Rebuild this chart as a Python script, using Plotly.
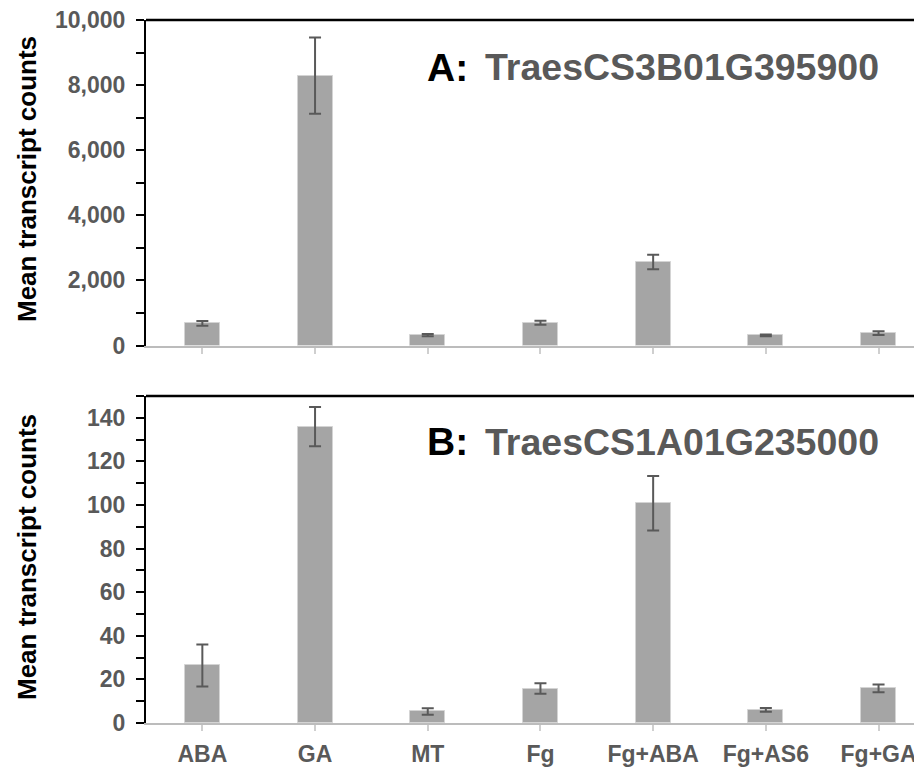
import plotly.graph_objects as go

categories = ["ABA", "GA", "MT", "Fg", "Fg+ABA", "Fg+AS6", "Fg+GA"]
a_means = [680, 8290, 320, 700, 2565, 310, 380]
a_err = [70, 1170, 35, 60, 220, 25, 55]
b_means = [26.4, 136.0, 5.3, 15.8, 100.8, 6.0, 15.9]
b_err = [9.6, 9.0, 1.5, 2.4, 12.5, 0.85, 1.75]
a_ticks = [0, 2000, 4000, 6000, 8000, 10000]
b_ticks = [0, 20, 40, 60, 80, 100, 120, 140]

# page body has an 8px margin: figure drawn at (8, 8)
OFF = 8
W, H = 922 - OFF, 768 - OFF
ML, MR, MT_, MB = 146 - OFF, 0, 20 - OFF, 45
PH = H - MT_ - MB

def py(p):
    return (H - MB - (p - OFF)) / PH

def px(p):
    return (p - OFF - ML) / (W - ML - MR)

FONT = "Liberation Sans, Arial, sans-serif"
GRAY = "#595959"
BAR = "#a5a5a5"

fig = go.Figure()
for means, errs, xa, ya in [(a_means, a_err, "x", "y"), (b_means, b_err, "x2", "y2")]:
    fig.add_trace(go.Bar(
        x=categories, y=means, xaxis=xa, yaxis=ya, width=0.31,
        marker=dict(color=BAR, line=dict(color="#d4d4d4", width=1)),
        error_y=dict(type="data", array=errs, visible=True, color=GRAY, thickness=2, width=6),
        showlegend=False,
    ))

xr = [-0.5, -0.5 + (W - ML - MR) / 112.7]
xcommon = dict(type="category", range=xr, showline=True, linecolor="#bcbcbc", linewidth=2,
               ticks="outside", ticklen=6, tickcolor="#cfcfcf", tickwidth=1.5,
               showgrid=False, zeroline=False, automargin=False)
ycommon = dict(showline=True, linecolor="black", linewidth=2, ticks="outside", ticklen=8,
               tickcolor="black", tickwidth=1.5, showgrid=False, zeroline=False, automargin=False,
               tickfont=dict(family=FONT, size=23, color=GRAY, weight="bold"),
               ticklabelstandoff=6, ticklabeloverflow="allow")

fig.update_layout(
    width=W, height=H, margin=dict(l=ML, r=MR, t=MT_, b=MB, autoexpand=False),
    plot_bgcolor="white", paper_bgcolor="white", bargap=0,
    xaxis=dict(**xcommon, domain=[0, 1], anchor="y", showticklabels=False),
    yaxis=dict(**ycommon, domain=[py(345.5), 1.0], anchor="x", range=[0, 10000],
               tickvals=a_ticks, tickformat=",",
               minor=dict(dtick=1000, ticks="outside", ticklen=8, tickcolor="black", tickwidth=1.5)),
    xaxis2=dict(**xcommon, domain=[0, 1], anchor="y2", showticklabels=True,
                tickfont=dict(family=FONT, size=23, color=GRAY, weight="bold"),
                ticklabelstandoff=3, ticklabeloverflow="allow"),
    yaxis2=dict(**ycommon, domain=[0, py(396)], anchor="x2", range=[0, 150],
                tickvals=b_ticks,
                minor=dict(dtick=10, ticks="outside", ticklen=8, tickcolor="black", tickwidth=1.5)),
)

for xref, yref in [("x domain", "y domain"), ("x2 domain", "y2 domain")]:
    fig.add_shape(type="line", xref=xref, yref=yref,
                  x0=0, x1=1, y0=1, y1=1, line=dict(color="black", width=2.5))

ann = []
for cy in [179, 557]:
    ann.append(dict(text="Mean transcript counts", x=px(27), y=py(cy), xref="paper", yref="paper",
                    textangle=-90, showarrow=False, xanchor="center", yanchor="middle",
                    font=dict(family=FONT, size=26, color="black", weight="bold")))
for label, gene, cy in [("A:", "TraesCS3B01G395900", 67), ("B:", "TraesCS1A01G235000", 442)]:
    ann.append(dict(text=label, x=px(425), y=py(cy), xref="paper", yref="paper", showarrow=False,
                    xanchor="left", yanchor="middle",
                    font=dict(family=FONT, size=39, color="black", weight="bold")))
    ann.append(dict(text=gene, x=px(483), y=py(cy), xref="paper", yref="paper", showarrow=False,
                    xanchor="left", yanchor="middle",
                    font=dict(family=FONT, size=37.5, color=GRAY, weight="bold")))
fig.update_layout(annotations=ann)

fig.write_html("out.html")
